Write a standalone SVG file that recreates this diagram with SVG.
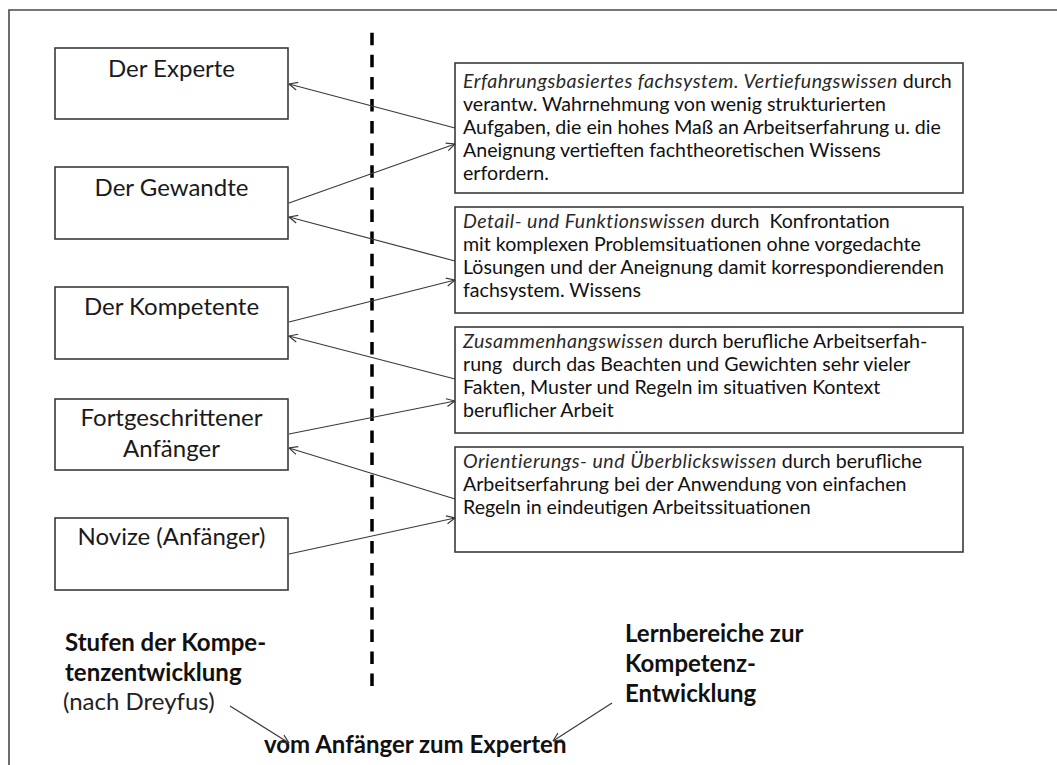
<svg xmlns="http://www.w3.org/2000/svg" width="1057" height="765" viewBox="0 0 1057 765">
  <defs>
    <style>
      .frame{fill:none;stroke:#4a4a4a;stroke-width:1.6}
      .box{fill:#fff;stroke:#3a3a3a;stroke-width:1.6}
      .title{font-family:Lato,"Liberation Sans",sans-serif;font-size:24px;fill:#1a1a1a;text-anchor:middle}
      .body{font-family:Lato,"Liberation Sans",sans-serif;font-size:18.5px;fill:#111}
      .it{font-style:italic;fill:#2a2a2a;letter-spacing:0.45px}
      .label{font-family:Lato,"Liberation Sans",sans-serif;font-size:24px;font-weight:bold;fill:#111}
      .note{font-family:Lato,"Liberation Sans",sans-serif;font-size:24px;fill:#222}
      .conn{fill:none;stroke:#3a3a3a;stroke-width:1.2;marker-end:url(#arr)}
      .divider{stroke:#000;stroke-width:3.5;stroke-dasharray:12.5 9.6}
    </style>
    <marker id="arr" viewBox="0 0 10 10" refX="9.5" refY="5" markerWidth="10" markerHeight="10" markerUnits="userSpaceOnUse" orient="auto">
      <path d="M1,1 L9.5,5 L1,9" fill="none" stroke="#3a3a3a" stroke-width="1.2"/>
    </marker>
  </defs>

  <rect width="1057" height="765" fill="#fff"/>
  <!-- outer frame, open to the right and bottom -->
  <path class="frame" d="M9,765 V10 H1057"/>

  <!-- dashed divider -->
  <line class="divider" x1="372" y1="32.7" x2="372" y2="688"/>

  <!-- competence stages (left column) -->
  <g id="stage-expert">
    <rect class="box" x="55" y="48" width="233" height="71"/>
    <text class="title" x="171.5" y="77">Der Experte</text>
  </g>
  <g id="stage-proficient">
    <rect class="box" x="55" y="167" width="233" height="72"/>
    <text class="title" x="171.5" y="196">Der Gewandte</text>
  </g>
  <g id="stage-competent">
    <rect class="box" x="55" y="287" width="233" height="72"/>
    <text class="title" x="171.5" y="315">Der Kompetente</text>
  </g>
  <g id="stage-advanced">
    <rect class="box" x="55" y="399" width="233" height="71"/>
    <text class="title" x="171.5" y="426">Fortgeschrittener</text>
    <text class="title" x="171.5" y="457">Anfänger</text>
  </g>
  <g id="stage-novice">
    <rect class="box" x="55" y="518" width="233" height="72"/>
    <text class="title" x="171.5" y="545">Novize (Anfänger)</text>
  </g>

  <!-- learning areas (right column); body text is set slightly wide -->
  <g id="area-deep">
    <rect class="box" x="455" y="63" width="508" height="130"/>
    <g transform="translate(463 0) scale(1.06 1)">
      <text class="body" x="0" y="88"><tspan class="it">Erfahrungsbasiertes fachsystem. Vertiefungswissen</tspan> durch</text>
      <text class="body" x="0" y="111">verantw. Wahrnehmung von wenig strukturierten</text>
      <text class="body" x="0" y="134">Aufgaben, die ein hohes Maß an Arbeitserfahrung u. die</text>
      <text class="body" x="0" y="157">Aneignung vertieften fachtheoretischen Wissens</text>
      <text class="body" x="0" y="180">erfordern.</text>
    </g>
  </g>
  <g id="area-detail">
    <rect class="box" x="455" y="207" width="508" height="106"/>
    <g transform="translate(463 0) scale(1.06 1)">
      <text class="body" x="0" y="228" xml:space="preserve"><tspan class="it">Detail- und Funktionswissen</tspan> durch  Konfrontation</text>
      <text class="body" x="0" y="251">mit komplexen Problemsituationen ohne vorgedachte</text>
      <text class="body" x="0" y="274">Lösungen und der Aneignung damit korrespondierenden</text>
      <text class="body" x="0" y="297">fachsystem. Wissens</text>
    </g>
  </g>
  <g id="area-context">
    <rect class="box" x="455" y="327" width="508" height="106"/>
    <g transform="translate(463 0) scale(1.06 1)">
      <text class="body" x="0" y="348"><tspan class="it">Zusammenhangswissen</tspan> durch berufliche Arbeitserfah-</text>
      <text class="body" x="0" y="371" xml:space="preserve">rung  durch das Beachten und Gewichten sehr vieler</text>
      <text class="body" x="0" y="394">Fakten, Muster und Regeln im situativen Kontext</text>
      <text class="body" x="0" y="417">beruflicher Arbeit</text>
    </g>
  </g>
  <g id="area-orientation">
    <rect class="box" x="455" y="447" width="508" height="105"/>
    <g transform="translate(463 0) scale(1.06 1)">
      <text class="body" x="0" y="468"><tspan class="it">Orientierungs- und Überblickswissen</tspan> durch berufliche</text>
      <text class="body" x="0" y="491">Arbeitserfahrung bei der Anwendung von einfachen</text>
      <text class="body" x="0" y="514">Regeln in eindeutigen Arbeitssituationen</text>
    </g>
  </g>

  <!-- captions -->
  <g id="caption-stages">
    <text class="label" x="65" y="651">Stufen der Kompe-</text>
    <text class="label" x="65" y="681">tenzentwicklung</text>
    <text class="note" x="63" y="710">(nach Dreyfus)</text>
  </g>
  <g id="caption-areas">
    <text class="label" x="625" y="642">Lernbereiche zur</text>
    <text class="label" x="625" y="672">Kompetenz-</text>
    <text class="label" x="625" y="702">Entwicklung</text>
  </g>
  <g id="caption-direction">
    <text class="label" x="264" y="753">vom Anfänger zum Experten</text>
  </g>

  <!-- connectors -->
  <g id="connectors">
    <line class="conn" x1="455" y1="128" x2="289" y2="84"/>
    <line class="conn" x1="289" y1="203" x2="455" y2="144"/>
    <line class="conn" x1="455" y1="261" x2="289" y2="217"/>
    <line class="conn" x1="289" y1="322" x2="455" y2="280"/>
    <line class="conn" x1="455" y1="379" x2="289" y2="336"/>
    <line class="conn" x1="289" y1="434" x2="455" y2="401"/>
    <line class="conn" x1="455" y1="499" x2="289" y2="448"/>
    <line class="conn" x1="289" y1="554" x2="455" y2="518"/>
    <line class="conn" x1="230" y1="706" x2="289" y2="743"/>
    <line class="conn" x1="612" y1="703" x2="553" y2="741"/>
  </g>
</svg>
